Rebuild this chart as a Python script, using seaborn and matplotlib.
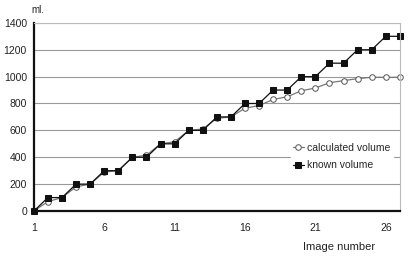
import numpy as np
import pandas as pd
import seaborn as sns
import matplotlib
matplotlib.use("Agg")
import matplotlib.pyplot as plt

# Data
image_number = list(range(1, 28))
calculated = [0, 70, 100, 180, 200, 290, 300, 400, 415, 500, 515, 600, 610, 690,
              700, 765, 785, 830, 850, 895, 915, 955, 970, 985, 995, 995, 995]
known = [0, 100, 100, 200, 200, 300, 300, 400, 400, 500, 500, 600, 600, 700,
         700, 800, 800, 900, 900, 1000, 1000, 1100, 1100, 1200, 1200, 1300, 1300]
x_ticks = [1, 6, 11, 16, 21, 26]
y_ticks = [0, 200, 400, 600, 800, 1000, 1200, 1400]

df = pd.DataFrame({
    "image": image_number * 2,
    "volume": calculated + known,
    "series": ["calculated volume"] * len(calculated) + ["known volume"] * len(known),
})

sns.set_style("white")
plt.rcParams["font.family"] = ["Liberation Sans", "DejaVu Sans"]

fig = plt.figure(figsize=(4.08, 2.57), dpi=100)
ax = fig.add_axes([0.083, 0.179, 0.897, 0.732])

sns.lineplot(data=df, x="image", y="volume", hue="series", style="series",
             palette={"calculated volume": "#777777", "known volume": "#111111"},
             markers={"calculated volume": "o", "known volume": "s"},
             dashes=False, linewidth=0.9, markersize=4, ax=ax, clip_on=False)

# Style the open circles
for line in ax.lines:
    if line.get_marker() == "o":
        line.set_markerfacecolor("white")
        line.set_markeredgecolor("#555555")
        line.set_markeredgewidth(0.7)
    else:
        line.set_markerfacecolor("#111111")
        line.set_markeredgecolor("#111111")

ax.set_xlim(1, 27)
ax.set_ylim(0, 1400)
ax.set_xticks(image_number, minor=True)
ax.set_xticks(x_ticks)
ax.set_yticks(y_ticks)
ax.tick_params(axis="both", labelsize=7.5, colors="#222222")
ax.tick_params(axis="x", which="both", direction="in", length=2.5, width=1, pad=9)
ax.tick_params(axis="y", length=0, pad=5)
ax.yaxis.grid(True, color="#999999", linewidth=0.8)
ax.set_axisbelow(True)

for side in ["left", "bottom"]:
    ax.spines[side].set_color("#111111")
    ax.spines[side].set_linewidth(1.6)
for side in ["right", "top"]:
    ax.spines[side].set_color("#bbbbbb")
    ax.spines[side].set_linewidth(0.8)

ax.set_xlabel("")
ax.set_ylabel("")
fig.text(0.093, 0.96, "ml.", fontsize=7, color="#222222", ha="center", va="center")
fig.text(0.83, 0.039, "Image number", fontsize=8, color="#222222", ha="center", va="center")

leg = ax.legend(loc="center right", bbox_to_anchor=(0.995, 0.29), frameon=True,
                fontsize=7.5, handlelength=1.1, handletextpad=0.3,
                labelspacing=0.75, borderpad=0.2)
leg.get_frame().set_edgecolor("white")
leg.get_frame().set_facecolor("white")
leg.get_frame().set_alpha(1)

fig.savefig("out.png", dpi=100)
